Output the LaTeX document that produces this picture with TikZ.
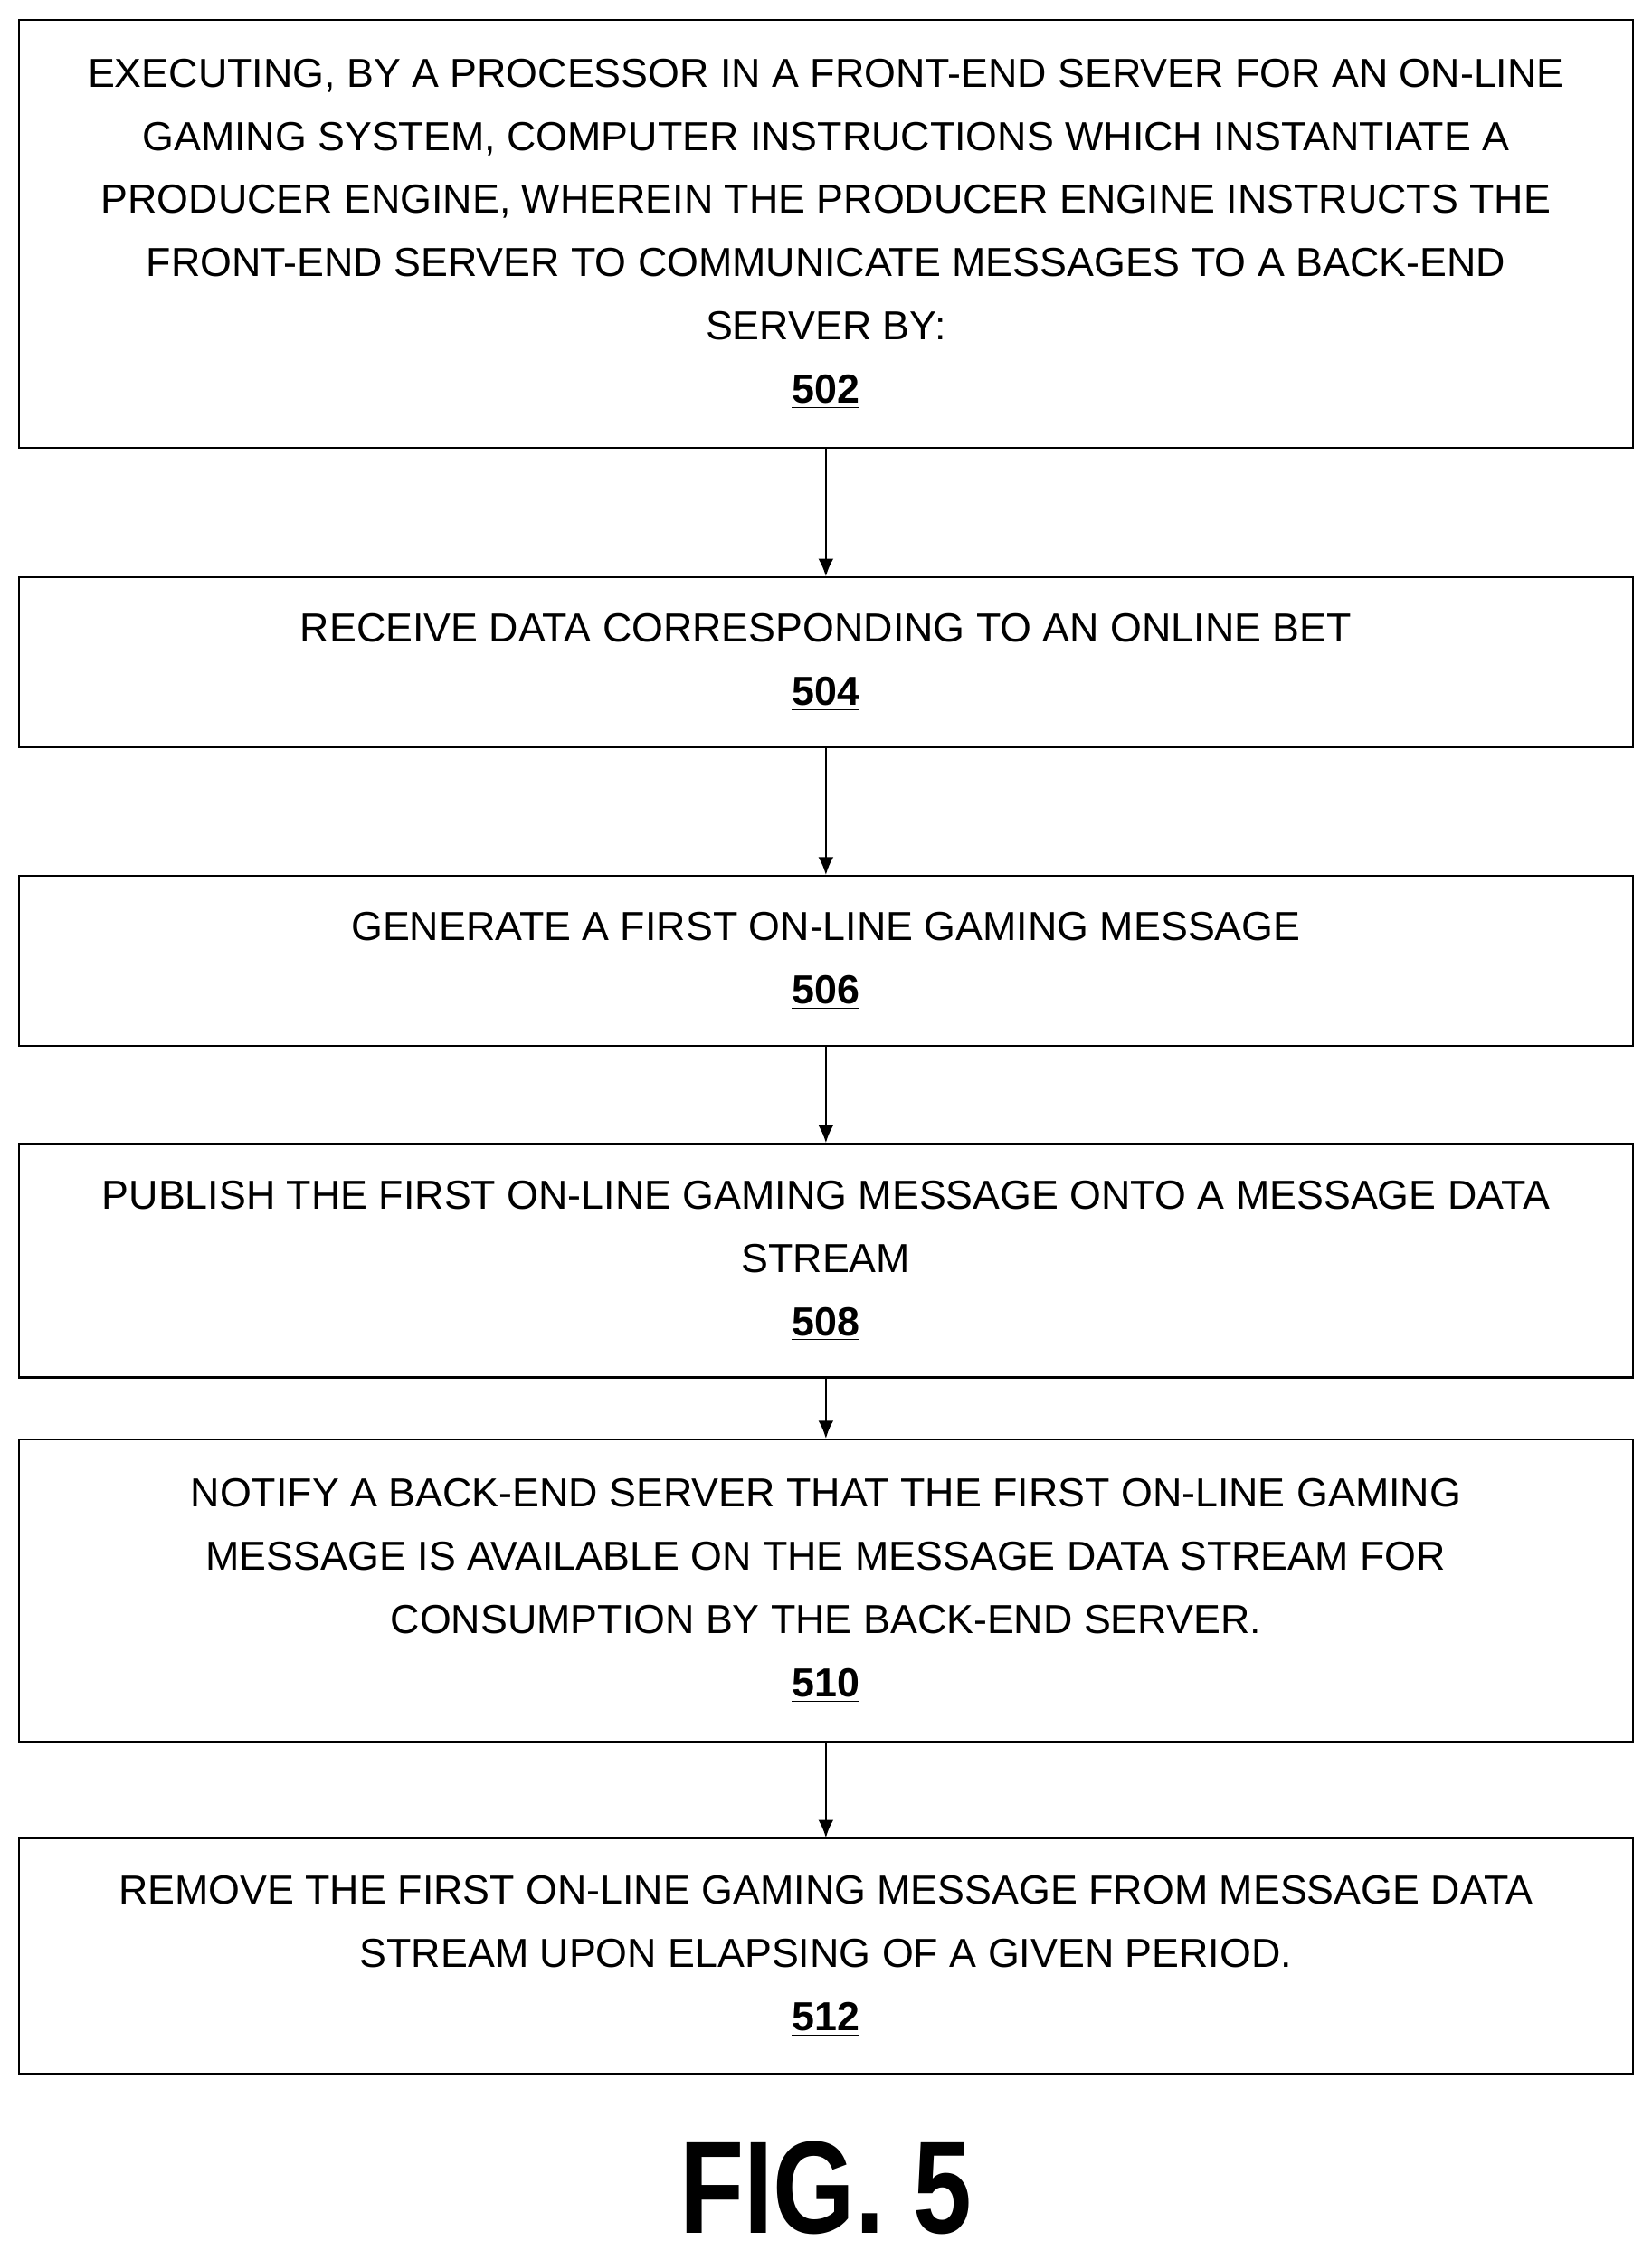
\documentclass[tikz,border=0pt]{standalone}
\usepackage{fontspec}
\usetikzlibrary{arrows.meta}
\setmainfont{Liberation Sans}
\begin{document}
\begin{tikzpicture}[x=0.02cm,y=-0.02cm,
 box/.style={draw,line width=0.8pt,minimum width=22.4cm,anchor=north,align=center,font=\fontsize{16}{25}\selectfont},
 arr/.style={-{Latex[length=7pt,width=6pt]},line width=0.8pt}]
\useasboundingbox (0,0) rectangle (1146,1568);
\fill[white] (0,0) rectangle (1146,1568);
\node[box,minimum height=5.94cm] (b502) at (573,13) {EXECUTING, BY A PROCESSOR IN A FRONT-END SERVER FOR AN ON-LINE\\GAMING SYSTEM, COMPUTER INSTRUCTIONS WHICH INSTANTIATE A\\PRODUCER ENGINE, WHEREIN THE PRODUCER ENGINE INSTRUCTS THE\\FRONT-END SERVER TO COMMUNICATE MESSAGES TO A BACK-END\\SERVER BY:\\\textbf{\underline{502}}};
\node[box,minimum height=2.36cm] (b504) at (573,400) {RECEIVE DATA CORRESPONDING TO AN ONLINE BET\\\textbf{\underline{504}}};
\node[box,minimum height=2.36cm] (b506) at (573,607) {GENERATE A FIRST ON-LINE GAMING MESSAGE\\\textbf{\underline{506}}};
\node[box,minimum height=3.24cm] (b508) at (573,793) {PUBLISH THE FIRST ON-LINE GAMING MESSAGE ONTO A MESSAGE DATA\\STREAM\\\textbf{\underline{508}}};
\node[box,minimum height=4.2cm] (b510) at (573,998) {NOTIFY A BACK-END SERVER THAT THE FIRST ON-LINE GAMING\\MESSAGE IS AVAILABLE ON THE MESSAGE DATA STREAM FOR\\CONSUMPTION BY THE BACK-END SERVER.\\\textbf{\underline{510}}};
\node[box,minimum height=3.26cm] (b512) at (573,1275) {REMOVE THE FIRST ON-LINE GAMING MESSAGE FROM MESSAGE DATA\\STREAM UPON ELAPSING OF A GIVEN PERIOD.\\\textbf{\underline{512}}};
\draw[arr] (b502) -- (b504);
\draw[arr] (b504) -- (b506);
\draw[arr] (b506) -- (b508);
\draw[arr] (b508) -- (b510);
\draw[arr] (b510) -- (b512);
\node[font=\fontsize{52}{56}\selectfont\bfseries] (fig) at (573,1518) {\scalebox{0.8}[1]{FIG. 5}};
\end{tikzpicture}
\end{document}
